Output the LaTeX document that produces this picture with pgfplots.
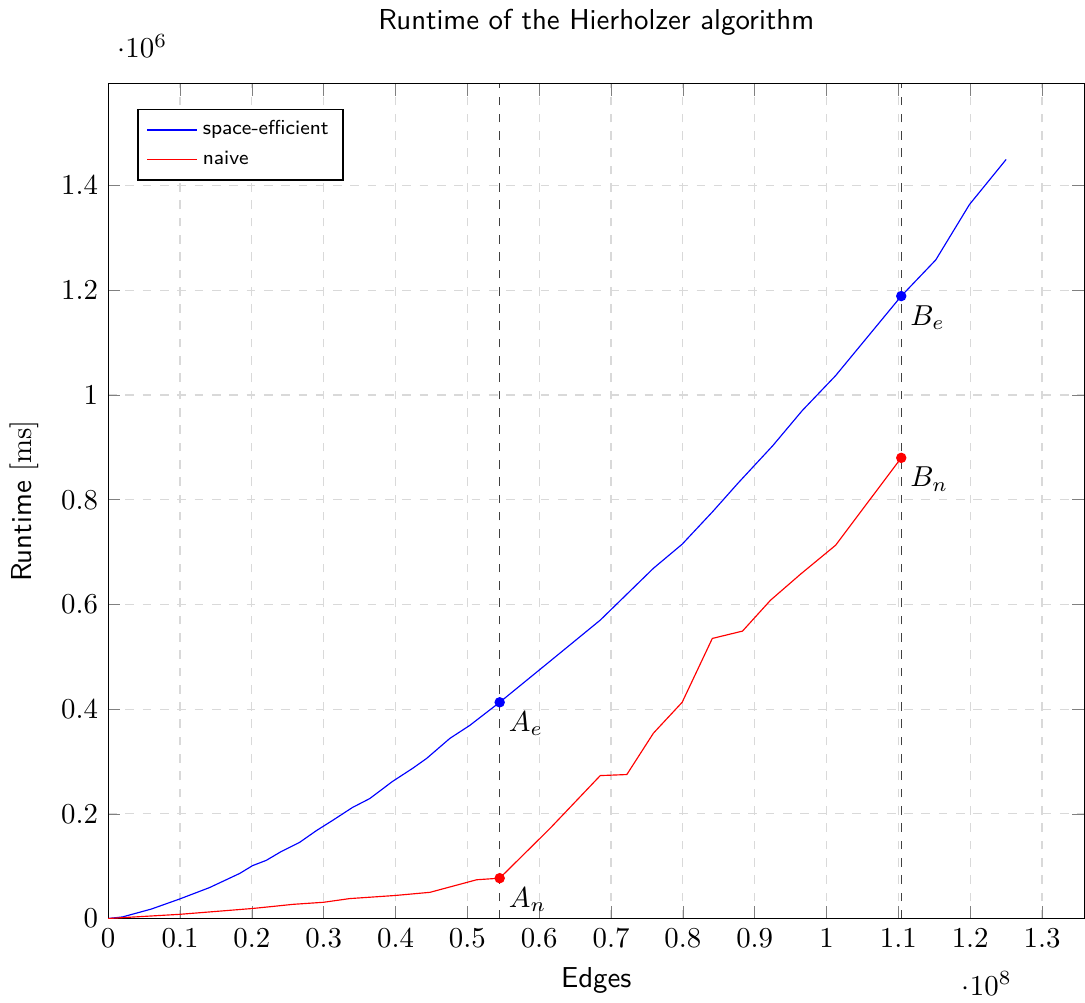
\documentclass[border=0pt]{standalone}
\usepackage{pgfplots}
\pgfplotsset{compat=1.18}
\begin{document}
\begin{tikzpicture}
\begin{axis}[
  scale only axis,
  width=338.5pt, height=289.5pt,
  xmin=0, xmax=1.359e8,
  ymin=0, ymax=1.595e6,
  xtick distance=1e7,
  ytick distance=2e5,
  grid=major,
  grid style={dashed, gray!30},
  title={\sffamily Runtime of the Hierholzer algorithm},
  title style={yshift=7pt},
  xlabel={\sffamily Edges},
  ylabel={\sffamily Runtime $[\mathrm{ms}]$},
  ylabel style={yshift=1pt},
  legend pos=north west,
  legend style={font=\sffamily\scriptsize, cells={anchor=west}},
  legend cell align=left,
]
% space-efficient implementation
\addplot[blue, mark=none] coordinates {
  (0,0) (2e6,3e3) (6e6,1.8e4) (9.9e6,3.7e4) (1.41e7,5.9e4) (1.83e7,8.6e4)
  (2.01e7,1.01e5) (2.2e7,1.11e5) (2.41e7,1.28e5) (2.66e7,1.45e5)
  (2.9e7,1.68e5) (3.12e7,1.87e5) (3.4e7,2.12e5) (3.64e7,2.29e5)
  (3.96e7,2.62e5) (4.24e7,2.87e5) (4.435e7,3.06e5) (4.756e7,3.44e5)
  (5.035e7,3.69e5) (5.45e7,4.13e5) (6.12e7,4.88e5) (6.85e7,5.7e5)
  (7.59e7,6.69e5) (7.99e7,7.15e5) (8.42e7,7.78e5) (8.77e7,8.32e5)
  (9.25e7,9.03e5) (9.66e7,9.7e5) (1.0126e8,1.037e6) (1.104e8,1.189e6)
  (1.152e8,1.258e6) (1.199e8,1.364e6) (1.25e8,1.45e6)
};
\addlegendentry{space-efficient}
% naive implementation
\addplot[red, mark=none] coordinates {
  (0,0) (1e7,8e3) (2e7,1.9e4) (2.29e7,2.3e4) (2.57e7,2.7e4) (3e7,3.1e4)
  (3.36e7,3.8e4) (4e7,4.4e4) (4.48e7,5e4) (5.13e7,7.4e4) (5.45e7,7.7e4)
  (6.15e7,1.72e5) (6.85e7,2.73e5) (7.22e7,2.75e5) (7.59e7,3.54e5)
  (7.99e7,4.13e5) (8.41e7,5.35e5) (8.83e7,5.49e5) (9.22e7,6.08e5)
  (9.64e7,6.58e5) (1.0126e8,7.13e5) (1.104e8,8.8e5)
};
\addlegendentry{naive}
% reference lines at the two marked edge counts
\addplot[black!75, dashed, forget plot] coordinates {(5.45e7,0) (5.45e7,1.595e6)};
\addplot[black!75, dashed, forget plot] coordinates {(1.104e8,0) (1.104e8,1.595e6)};
% marked points
\addplot[blue, only marks, mark=*, mark size=1.6pt, forget plot,
  point meta=explicit symbolic, nodes near coords,
  nodes near coords style={anchor=north west, text=black, font=\normalsize, inner sep=2pt, xshift=1pt, yshift=-1pt}]
  coordinates {(5.45e7,4.13e5)[$A_e$] (1.104e8,1.189e6)[$B_e$]};
\addplot[red, only marks, mark=*, mark size=1.6pt, forget plot,
  point meta=explicit symbolic, nodes near coords,
  nodes near coords style={anchor=north west, text=black, font=\normalsize, inner sep=2pt, xshift=1pt, yshift=-1pt}]
  coordinates {(5.45e7,7.7e4)[$A_n$] (1.104e8,8.8e5)[$B_n$]};
\end{axis}
\end{tikzpicture}
\end{document}
